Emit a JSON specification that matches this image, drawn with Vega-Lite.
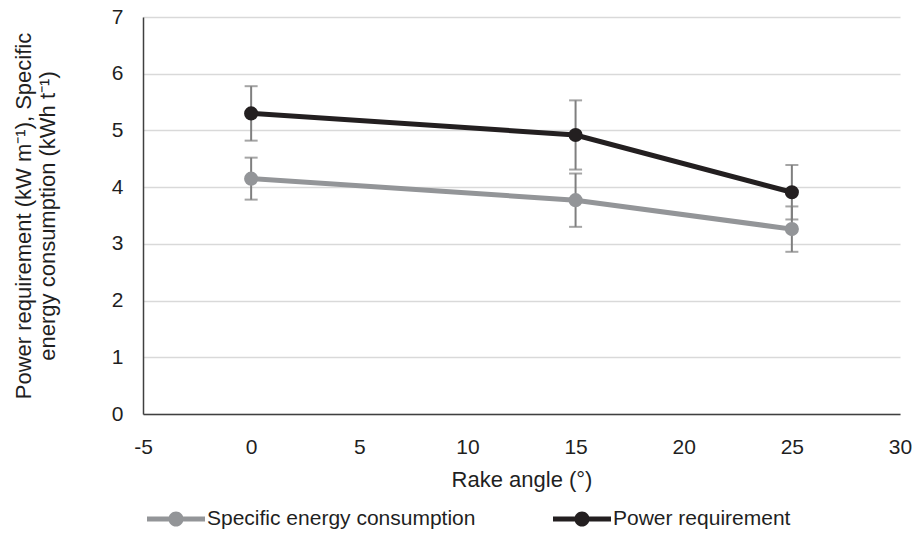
{
  "$schema": "https://vega.github.io/schema/vega-lite/v6.json",
  "width": 757,
  "height": 397,
  "autosize": "none",
  "padding": {"left": 143, "top": 17, "right": 15, "bottom": 130},
  "background": "white",
  "config": {
    "font": "Liberation Sans",
    "view": {"stroke": null}
  },
  "data": {
    "values": [
      {"angle": 0, "series": "Specific energy consumption", "value": 4.15, "lo": 3.78, "hi": 4.52},
      {"angle": 15, "series": "Specific energy consumption", "value": 3.77, "lo": 3.30, "hi": 4.24},
      {"angle": 25, "series": "Specific energy consumption", "value": 3.26, "lo": 2.86, "hi": 3.66},
      {"angle": 0, "series": "Power requirement", "value": 5.30, "lo": 4.82, "hi": 5.78},
      {"angle": 15, "series": "Power requirement", "value": 4.92, "lo": 4.31, "hi": 5.53},
      {"angle": 25, "series": "Power requirement", "value": 3.91, "lo": 3.43, "hi": 4.39}
    ]
  },
  "encoding": {
    "x": {"field": "angle", "type": "quantitative", "scale": {"domain": [-5, 30], "nice": false, "zero": false},
      "axis": {"title": "Rake angle (°)", "values": [-5, 0, 5, 10, 15, 20, 25, 30], "labelExpr": "'' + datum.value", "labelFlush": false, "grid": false, "ticks": false, "domainColor": "#404040", "domainWidth": 1.5, "labelFont": "Liberation Sans", "titleFont": "Liberation Sans", "labelColor": "#1f1f1f", "titleColor": "#1f1f1f", "labelFontSize": 21, "titleFontSize": 22, "titleFontWeight": "normal", "labelPadding": 22, "titlePadding": 12}}
  },
  "layer": [
    {
      "mark": {"type": "rule", "color": "#7f7f7f", "strokeWidth": 2},
      "encoding": {
        "y": {"field": "lo", "type": "quantitative"},
        "y2": {"field": "hi"}
      }
    },
    {
      "mark": {"type": "tick", "orient": "horizontal", "color": "#7f7f7f", "size": 13, "thickness": 2},
      "encoding": {"y": {"field": "lo", "type": "quantitative"}}
    },
    {
      "mark": {"type": "tick", "orient": "horizontal", "color": "#7f7f7f", "size": 13, "thickness": 2},
      "encoding": {"y": {"field": "hi", "type": "quantitative"}}
    },
    {
      "mark": {"type": "line", "strokeWidth": 5},
      "encoding": {
        "y": {"field": "value", "type": "quantitative"},
        "color": {"field": "series", "type": "nominal",
          "scale": {"domain": ["Specific energy consumption", "Power requirement"], "range": ["#939598", "#231f20"]}}
      }
    },
    {
      "mark": {"type": "point", "filled": true, "opacity": 1, "size": 200},
      "encoding": {
        "y": {"field": "value", "type": "quantitative",
          "scale": {"domain": [0, 7], "nice": false},
          "axis": {"title": ["Power requirement (kW m⁻¹), Specific", "energy consumption (kWh t⁻¹)"], "values": [0, 1, 2, 3, 4, 5, 6, 7], "format": "d", "labelFlush": false, "grid": true, "gridColor": "#d9d9d9", "gridWidth": 1.5, "ticks": false, "domainColor": "#404040", "domainWidth": 1.5, "labelFont": "Liberation Sans", "titleFont": "Liberation Sans", "labelColor": "#1f1f1f", "titleColor": "#1f1f1f", "labelFontSize": 21, "titleFontSize": 22, "titleFontWeight": "normal", "labelPadding": 20, "titlePadding": 52, "titleLineHeight": 24}},
        "color": {"field": "series", "type": "nominal",
          "scale": {"domain": ["Specific energy consumption", "Power requirement"], "range": ["#939598", "#231f20"]},
          "legend": {"title": null, "orient": "none", "direction": "horizontal", "legendX": 4, "legendY": 473, "labelFontSize": 21, "labelColor": "#1f1f1f", "labelFont": "Liberation Sans", "labelLimit": 0, "columnPadding": 77, "labelOffset": 2,
            "symbolType": "M-1,-0.085H1V0.085H-1Z M0.26,0A0.26,0.26 0 1,1 -0.26,0A0.26,0.26 0 1,1 0.26,0Z", "symbolSize": 3364, "symbolStrokeWidth": 0, "symbolOpacity": 1}}
      }
    }
  ]
}
